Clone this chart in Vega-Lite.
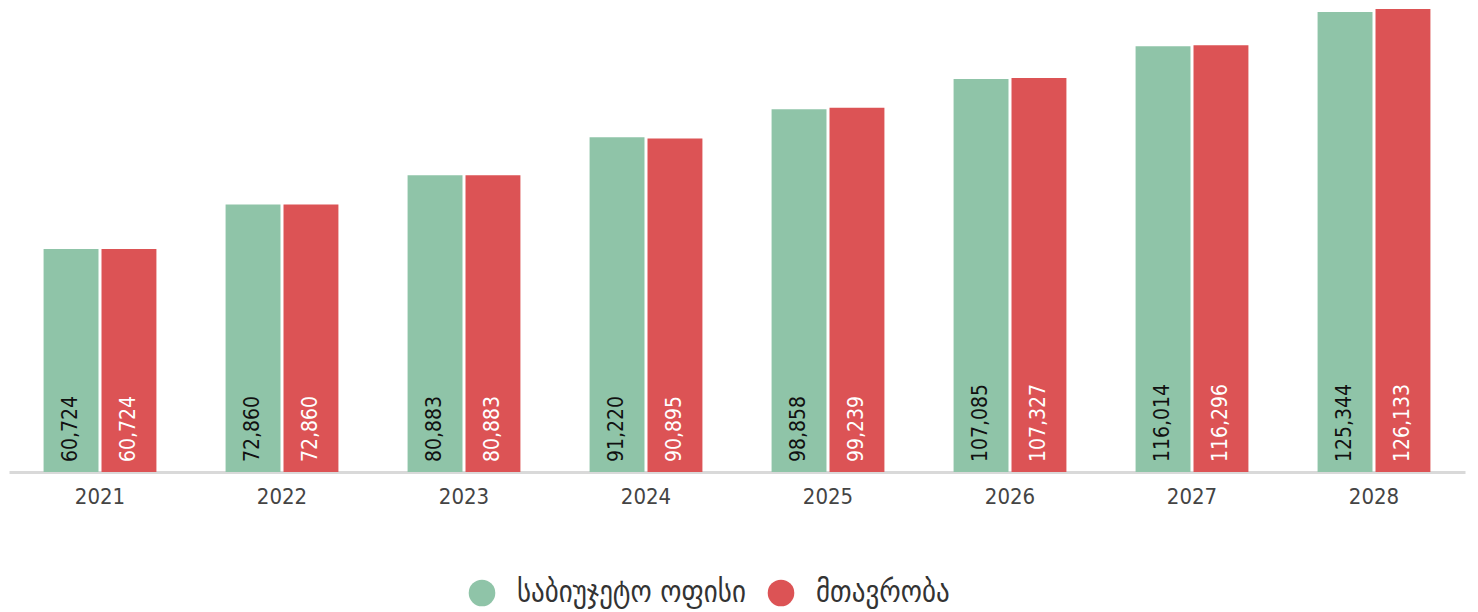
{
  "$schema": "https://vega.github.io/schema/vega-lite/v6.json",
  "width": 1456,
  "height": 472,
  "autosize": {"type": "none"},
  "padding": {"left": 9, "top": 0, "right": 13, "bottom": 140},
  "background": "white",
  "config": {
    "view": {"stroke": null},
    "font": "DejaVu Sans Condensed"
  },
  "data": {
    "values": [
      {"year": "2021", "series": "საბიუჯეტო ოფისი", "value": 60724},
      {"year": "2021", "series": "მთავრობა", "value": 60724},
      {"year": "2022", "series": "საბიუჯეტო ოფისი", "value": 72860},
      {"year": "2022", "series": "მთავრობა", "value": 72860},
      {"year": "2023", "series": "საბიუჯეტო ოფისი", "value": 80883},
      {"year": "2023", "series": "მთავრობა", "value": 80883},
      {"year": "2024", "series": "საბიუჯეტო ოფისი", "value": 91220},
      {"year": "2024", "series": "მთავრობა", "value": 90895},
      {"year": "2025", "series": "საბიუჯეტო ოფისი", "value": 98858},
      {"year": "2025", "series": "მთავრობა", "value": 99239},
      {"year": "2026", "series": "საბიუჯეტო ოფისი", "value": 107085},
      {"year": "2026", "series": "მთავრობა", "value": 107327},
      {"year": "2027", "series": "საბიუჯეტო ოფისი", "value": 116014},
      {"year": "2027", "series": "მთავრობა", "value": 116296},
      {"year": "2028", "series": "საბიუჯეტო ოფისი", "value": 125344},
      {"year": "2028", "series": "მთავრობა", "value": 126133}
    ]
  },
  "encoding": {
    "x": {
      "field": "year", "type": "nominal",
      "scale": {"paddingInner": 0.38, "paddingOuter": 0.19},
      "axis": {
        "title": null, "labelAngle": 0, "ticks": false,
        "domainColor": "#d9d9d9", "domainWidth": 3,
        "labelFontSize": 22, "labelColor": "#444444", "labelPadding": 14,
        "labelFont": "DejaVu Sans Condensed"
      }
    },
    "xOffset": {
      "field": "series", "type": "nominal",
      "sort": ["საბიუჯეტო ოფისი", "მთავრობა"],
      "scale": {"paddingInner": 0.052}
    },
    "y": {
      "field": "value", "type": "quantitative",
      "scale": {"domain": [0, 128600], "nice": false},
      "axis": null
    }
  },
  "layer": [
    {
      "mark": {"type": "bar"},
      "encoding": {
        "color": {
          "field": "series", "type": "nominal",
          "sort": ["საბიუჯეტო ოფისი", "მთავრობა"],
          "scale": {"domain": ["საბიუჯეტო ოფისი", "მთავრობა"], "range": ["#8fc4a8", "#dc5355"]},
          "legend": {
            "title": null, "orient": "none", "direction": "horizontal",
            "legendX": 458, "legendY": 578,
            "symbolType": "circle", "symbolSize": 707, "symbolStrokeWidth": 0,
            "symbolOpacity": 1,
            "labelFontSize": 30, "labelColor": "#333333", "labelLimit": 400,
            "labelFont": "DejaVu Sans Condensed",
            "columnPadding": 20, "labelOffset": 20
          }
        }
      }
    },
    {
      "mark": {"type": "text", "angle": 270, "align": "left", "baseline": "middle", "dx": 10, "fontSize": 21},
      "encoding": {
        "y": {"datum": 0, "type": "quantitative"},
        "text": {"field": "value", "type": "quantitative", "format": ",d"},
        "color": {
          "field": "series", "type": "nominal",
          "scale": {"domain": ["საბიუჯეტო ოფისი", "მთავრობა"], "range": ["#111111", "#ffffff"]},
          "legend": null
        }
      }
    }
  ],
  "resolve": {"scale": {"color": "independent"}}
}
